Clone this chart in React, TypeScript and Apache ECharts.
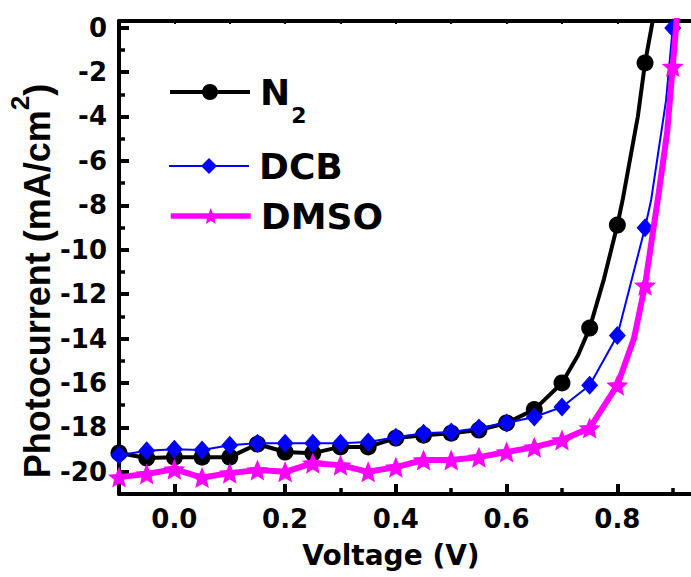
import React, { useEffect, useRef } from 'react';
import * as echarts from 'echarts';

// Voltages where the markers are drawn (V)
const markerVoltage = [-0.1, -0.05, 0, 0.05, 0.1, 0.15, 0.2, 0.25, 0.3, 0.35, 0.4, 0.45, 0.5, 0.55, 0.6, 0.65, 0.7, 0.75, 0.8, 0.85, 0.9];

// Photocurrent (mA/cm2) at the marker voltages
const n2Current = [-19.15, -19.38, -19.34, -19.34, -19.34, -18.75, -19.11, -19.16, -18.88, -18.88, -18.48, -18.35, -18.26, -18.12, -17.8, -17.2, -16.0, -13.53, -8.89, -1.59];
const dcbCurrent = [-19.25, -19.05, -18.98, -19.02, -18.8, -18.71, -18.71, -18.71, -18.71, -18.66, -18.44, -18.26, -18.21, -18.03, -17.8, -17.53, -17.08, -16.1, -13.86, -9.01, -0.02];
const dmsoCurrent = [-20.24, -20.1, -19.88, -20.26, -20.06, -19.92, -20.0, -19.61, -19.7, -20.0, -19.79, -19.47, -19.47, -19.34, -19.11, -18.89, -18.57, -18.03, -16.1, -11.6, -1.75];

// Extra curve points between markers (no marker drawn)
const n2Extra = [[0.729, -14.75], [0.776, -11.3], [0.81, -7.7], [0.837, -4.0], [0.866, 0.6]];
const dcbExtra = [[0.861, -7.76], [0.888, -3.26]];
const dmsoExtra = [[0.83, -14.0], [0.875, -7.4], [0.89, -4.7], [0.908, 0.6]];

// Tick values
const xMajorTicks = [0, 0.2, 0.4, 0.6, 0.8];
const xMinorTicks = [0.1, 0.3, 0.5, 0.7, 0.9];
const xTopTicks = [0, 0.1, 0.2, 0.3, 0.4, 0.5, 0.6, 0.7, 0.8, 0.9];
const yMajorTicks = [0, -2, -4, -6, -8, -10, -12, -14, -16, -18, -20];
const yMinorTicks = [-1, -3, -5, -7, -9, -11, -13, -15, -17, -19];

const STAR = 'path://M100,0 L126.4,63.6 L195.1,69.1 L142.8,113.9 L158.8,180.9 L100,145 L41.2,180.9 L57.2,113.9 L4.9,69.1 L73.6,63.6 Z';

function buildData(values: number[], extra: number[][]) {
  const pts: any[] = values.map((c, i) => ({ value: [markerVoltage[i], c] }));
  extra.forEach((p) => pts.push({ value: [p[0], p[1]], symbol: 'none' }));
  pts.sort((a, b) => a.value[0] - b.value[0]);
  return pts;
}

const FONT = 'DejaVu Sans';
const X_MIN = -0.1;
const X_MAX = 0.933;
const Y_MIN = -21;
const Y_MAX = 0.3;

export default function App() {
  const ref = useRef<HTMLDivElement>(null);
  useEffect(() => {
    if (!ref.current) return;
    const chart = echarts.init(ref.current, undefined, { renderer: 'svg' });
    const axisLineStyle = { color: '#000', width: 4 };
    const labelStyle = { fontFamily: FONT, fontWeight: 'bold' as const, fontSize: 26, color: '#000' };
    const legendBase = {
      orient: 'horizontal' as const,
      left: 168,
      padding: 0,
      itemWidth: 80,
      itemHeight: 20,
      selectedMode: false,
    };
    const tStyle = { fontFamily: FONT, fontWeight: 'bold', fontSize: 36, color: '#000', lineHeight: 40, padding: [0, 0, 0, 5] };
    chart.setOption({
      animation: false,
      backgroundColor: '#fff',
      grid: { left: 119, right: 0, top: 21, bottom: 83, outerBoundsMode: 'none', containLabel: false },
      xAxis: [
        {
          type: 'value', position: 'bottom', min: X_MIN, max: X_MAX,
          axisLine: { show: true, onZero: false, lineStyle: axisLineStyle },
          axisTick: { show: true, inside: true, length: 10, lineStyle: { color: '#000', width: 4 }, customValues: xMajorTicks },
          axisLabel: { show: true, margin: 12, customValues: xMajorTicks, formatter: (v: number) => v.toFixed(1), ...labelStyle },
          splitLine: { show: false },
        },
        {
          type: 'value', position: 'bottom', min: X_MIN, max: X_MAX,
          axisLine: { show: false, onZero: false },
          axisTick: { show: true, inside: true, length: 6, lineStyle: { color: '#000', width: 3.5 }, customValues: xMinorTicks },
          axisLabel: { show: false },
          splitLine: { show: false },
        },
        {
          type: 'value', position: 'top', min: X_MIN, max: X_MAX,
          axisLine: { show: true, onZero: false, lineStyle: axisLineStyle },
          axisTick: { show: true, inside: true, length: 3, lineStyle: { color: '#000', width: 2 }, customValues: xTopTicks },
          axisLabel: { show: false },
          splitLine: { show: false },
        },
      ],
      yAxis: [
        {
          type: 'value', position: 'left', min: Y_MIN, max: Y_MAX,
          axisLine: { show: true, onZero: false, lineStyle: axisLineStyle },
          axisTick: { show: true, inside: true, length: 10, lineStyle: { color: '#000', width: 4 }, customValues: yMajorTicks },
          axisLabel: { show: true, margin: 12, customValues: yMajorTicks, ...labelStyle },
          splitLine: { show: false },
        },
        {
          type: 'value', position: 'left', min: Y_MIN, max: Y_MAX,
          axisLine: { show: false, onZero: false },
          axisTick: { show: true, inside: true, length: 6, lineStyle: { color: '#000', width: 3.5 }, customValues: yMinorTicks },
          axisLabel: { show: false },
          splitLine: { show: false },
        },
      ],
      legend: [
        {
          ...legendBase,
          top: 74,
          data: ['N2'],
          lineStyle: { width: 4 },
          formatter: () => '{n|N}{s|2}',
          textStyle: {
            color: '#000', fontFamily: FONT, fontWeight: 'bold', fontSize: 36,
            rich: {
              n: { fontFamily: FONT, fontWeight: 'bold', fontSize: 36, color: '#000', lineHeight: 68, padding: [0, 0, 0, 5], verticalAlign: 'middle' },
              s: { fontFamily: FONT, fontWeight: 'bold', fontSize: 22, color: '#000', lineHeight: 40, padding: [0, 0, 0, 1], verticalAlign: 'bottom' },
            },
          },
        },
        {
          ...legendBase,
          top: 148,
          data: ['DCB'],
          lineStyle: { width: 2 },
          formatter: (name: string) => `{t|${name}}`,
          textStyle: { color: '#000', fontFamily: FONT, fontWeight: 'bold', fontSize: 36, rich: { t: tStyle } },
        },
        {
          ...legendBase,
          top: 198,
          data: ['DMSO'],
          lineStyle: { width: 5.5 },
          formatter: (name: string) => `{t|${name}}`,
          textStyle: { color: '#000', fontFamily: FONT, fontWeight: 'bold', fontSize: 36, rich: { t: tStyle } },
        },
      ],
      graphic: [
        {
          type: 'text',
          x: 391,
          y: 555,
          style: {
            text: 'Voltage (V)',
            fontFamily: FONT, fontWeight: 'bold', fontSize: 28,
            fill: '#000', align: 'center', verticalAlign: 'middle',
          },
        },
        {
          type: 'text',
          x: 35,
          y: 281,
          rotation: Math.PI / 2,
          style: {
            text: '{a|Photocurrent (mA/cm}{s|2}{a|)}',
            fill: '#000', align: 'center', verticalAlign: 'middle',
            fontFamily: 'Liberation Sans', fontWeight: 'bold', fontSize: 36,
            rich: {
              a: { fontFamily: 'Liberation Sans', fontWeight: 'bold', fontSize: 36, fill: '#000', lineHeight: 40, verticalAlign: 'bottom' },
              s: { fontFamily: 'Liberation Sans', fontWeight: 'bold', fontSize: 26, fill: '#000', lineHeight: 26, padding: [0, 0, 22, 0], verticalAlign: 'bottom' },
            },
          },
        },
      ],
      series: [
        {
          name: 'N2', type: 'line', xAxisIndex: 0, yAxisIndex: 0,
          data: buildData(n2Current, n2Extra),
          symbol: 'circle', symbolSize: 17,
          lineStyle: { color: '#000', width: 4 },
          itemStyle: { color: '#000' },
          z: 2,
        },
        {
          name: 'DCB', type: 'line', xAxisIndex: 0, yAxisIndex: 0,
          data: buildData(dcbCurrent, dcbExtra),
          symbol: 'diamond', symbolSize: [17, 19],
          lineStyle: { color: '#0000ff', width: 2 },
          itemStyle: { color: '#0000ff' },
          z: 3,
        },
        {
          name: 'DMSO', type: 'line', xAxisIndex: 0, yAxisIndex: 0,
          data: buildData(dmsoCurrent, dmsoExtra),
          symbol: STAR, symbolSize: [22, 21],
          lineStyle: { color: '#ff00ff', width: 6 },
          itemStyle: { color: '#ff00ff' },
          z: 4,
        },
      ],
    });
    return () => chart.dispose();
  }, []);
  return <div ref={ref} style={{ position: 'absolute', left: 0, top: 0, width: 691, height: 577, background: '#fff' }} />;
}
